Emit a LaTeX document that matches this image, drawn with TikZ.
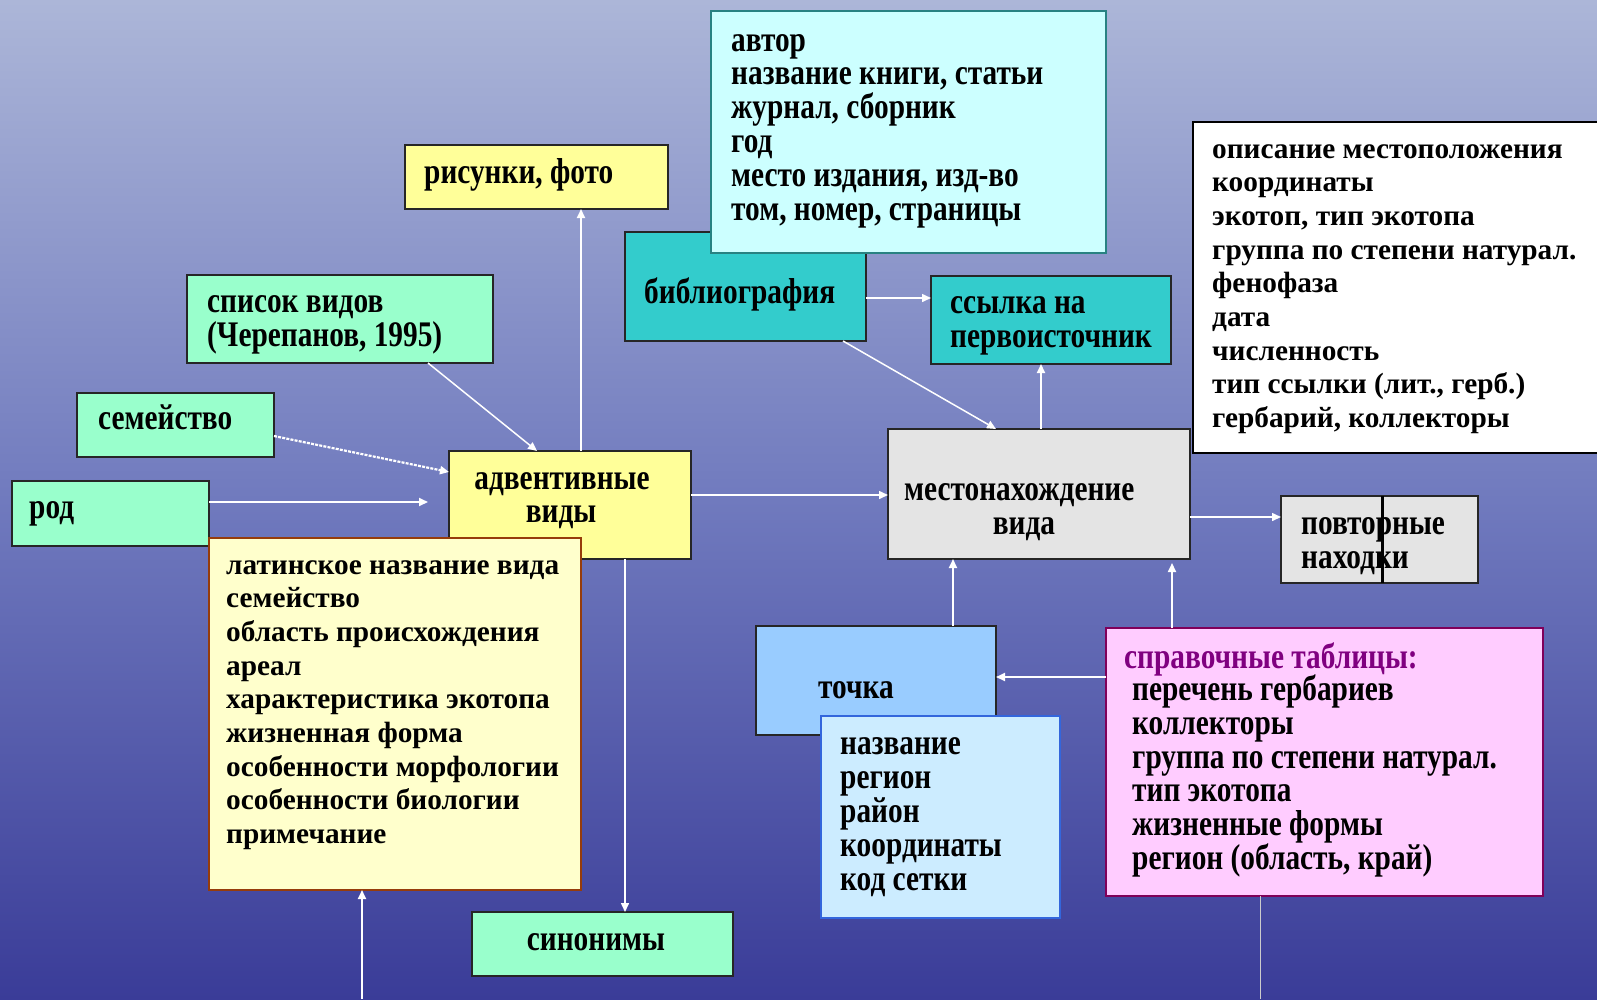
\documentclass[tikz,border=0pt]{standalone}
\usepackage{fontspec}
\setmainfont{Liberation Serif}
\newfontfamily\condfont{Liberation Serif}[FakeStretch=0.815]
\usetikzlibrary{arrows.meta,calc}
\definecolor{bgtop}{RGB}{172,182,216}
\definecolor{bgmid}{RGB}{112,122,190}
\definecolor{bgbot}{RGB}{58,60,152}
\definecolor{cyanl}{RGB}{204,255,255}
\definecolor{cyanb}{RGB}{40,130,130}
\definecolor{teal}{RGB}{51,204,204}
\definecolor{mint}{RGB}{153,255,204}
\definecolor{yel}{RGB}{255,255,153}
\definecolor{ltyel}{RGB}{255,255,204}
\definecolor{brown}{RGB}{150,60,10}
\definecolor{grayb}{RGB}{228,228,228}
\definecolor{blue1}{RGB}{153,204,255}
\definecolor{blue2}{RGB}{204,236,255}
\definecolor{blueb}{RGB}{51,102,220}
\definecolor{pink}{RGB}{255,204,255}
\definecolor{pinkb}{RGB}{128,0,90}
\definecolor{purp}{RGB}{128,0,128}
\tikzset{
  box/.style={draw=black!85, line width=1.3pt, anchor=north west, inner sep=0pt, outer sep=0pt},
  ctxt/.style={font=\condfont\bfseries\fontsize{36}{34}\selectfont, inner sep=0pt, anchor=base west, text=black},
  ntxt/.style={font=\bfseries\fontsize{29.3}{34}\selectfont, inner sep=0pt, anchor=base west, text=black},
  arr/.style={draw=white, line width=1.8pt, -{Triangle[length=9pt,width=8pt]}},
}
\begin{document}
\begin{tikzpicture}[x=1pt,y=-1pt]
\useasboundingbox (0,0) rectangle (1597,999);
\fill[top color=bgtop, bottom color=bgbot, middle color=bgmid] (0,0) rectangle (1597,999);

% boxes
\node[box, fill=yel, minimum width=263pt, minimum height=64pt] (risunki) at (405,145) {};
\node[box, fill=teal, minimum width=241pt, minimum height=109pt] (biblio) at (625,232) {};
\node[box, fill=cyanl, draw=cyanb, minimum width=395pt, minimum height=242pt] (bibd) at (711,11) {};
\node[box, fill=teal, minimum width=240pt, minimum height=88pt] (ssylka) at (931,276) {};
\node[box, fill=white, draw=black, line width=2pt, minimum width=420pt, minimum height=331pt] (white) at (1193,122) {};
\node[box, fill=mint, minimum width=306pt, minimum height=88pt] (spisok) at (187,275) {};
\node[box, fill=mint, minimum width=197pt, minimum height=64pt] (semeistvo) at (77,393) {};
\node[box, fill=mint, minimum width=197pt, minimum height=65pt] (rod) at (12,481) {};
\node[box, fill=yel, minimum width=242pt, minimum height=108pt] (advent) at (449,451) {};
\node[box, fill=ltyel, draw=brown, line width=1.8pt, minimum width=372pt, minimum height=352pt] (latin) at (209,538) {};
\node[box, fill=mint, minimum width=261pt, minimum height=64pt] (sinonimy) at (472,912) {};
\node[box, fill=grayb, line width=2pt, minimum width=302pt, minimum height=130pt] (mesto) at (888,429) {};
\node[box, fill=grayb, minimum width=197pt, minimum height=87pt] (povtor) at (1281,496) {};
\node[box, fill=blue1, minimum width=240pt, minimum height=109pt] (tochka) at (756,626) {};
\node[box, fill=blue2, draw=blueb, line width=1.6pt, minimum width=239pt, minimum height=202pt] (nazv) at (821,716) {};
\node[box, fill=pink, draw=pinkb, line width=1.8pt, minimum width=437pt, minimum height=268pt] (sprav) at (1106,628) {};

\coordinate (xpov) at (1382,0);
\draw[line width=3pt] (povtor.north -| xpov) -- (povtor.south -| xpov);

% texts
\node[ctxt] (trisunki) at (424,183) {рисунки, фото};
\foreach \t [count=\i from 0] in {автор, {название книги, статьи}, {журнал, сборник}, год, {место издания, изд-во}, {том, номер, страницы}}
  \node[ctxt] (tbib\i) at (731,{51+33.8*\i}) {\t};
\node[ctxt] (tbiblio) at (644,303) {библиография};
\node[ctxt] (tssyl1) at (950,313) {ссылка на};
\node[ctxt] (tssyl2) at (950,347) {первоисточник};
\foreach \t [count=\i from 0] in {описание местоположения, координаты, {экотоп, тип экотопа}, {группа по степени натурал.}, фенофаза, дата, численность, {тип ссылки (лит., герб.)}, {гербарий, коллекторы}}
  \node[ntxt] (twh\i) at (1212,{158+33.7*\i}) {\t};
\node[ctxt] (tsp1) at (207,312) {список видов};
\node[ctxt] (tsp2) at (207,346) {(Черепанов, 1995)};
\node[ctxt] (tsem) at (98,429) {семейство};
\node[ctxt] (trod) at (29,518) {род};
\node[ctxt, anchor=base] (tadv1) at (562,489) {адвентивные};
\node[ctxt, anchor=base] (tadv2) at (561,522) {виды};
\foreach \t [count=\i from 0] in {латинское название вида, семейство, область происхождения, ареал, характеристика экотопа, жизненная форма, особенности морфологии, особенности биологии, примечание}
  \node[ntxt] (tlat\i) at (226,{574+33.7*\i}) {\t};
\node[ctxt, anchor=base] (tsin) at (596,950) {синонимы};
\node[ctxt] (tmes1) at (904,500) {местонахождение};
\node[ctxt, anchor=base] (tmes2) at (1024,534) {вида};
\node[ctxt] (tpov1) at (1301,534) {повторные};
\node[ctxt] (tpov2) at (1301,568) {находки};
\node[ctxt] (ttoch) at (818,698) {точка};
\foreach \t [count=\i from 0] in {название, регион, район, координаты, код сетки}
  \node[ctxt] (tnaz\i) at (840,{754.5+34*\i}) {\t};
\node[ctxt, text=purp] (tspr) at (1124,668) {справочные таблицы:};
\foreach \t [count=\i from 0] in {перечень гербариев, коллекторы, {группа по степени натурал.}, тип экотопа, жизненные формы, {регион (область, край)}}
  \node[ctxt] (tspr\i) at (1132,{700.5+33.8*\i}) {\t};

% connectors
\coordinate (x581) at (581,0);
\coordinate (x428) at (428,0);
\coordinate (x537) at (537,0);
\coordinate (x625) at (625,0);
\coordinate (x843) at (843,0);
\coordinate (x996) at (996,0);
\coordinate (x1041) at (1041,0);
\coordinate (x953) at (953,0);
\coordinate (x1172) at (1172,0);
\coordinate (x1260) at (1260,0);
\coordinate (y298) at (0,298);
\coordinate (y517) at (0,517);
\coordinate (y677) at (0,677);
\coordinate (y495) at (0,495);
\coordinate (y502) at (0,502);
\coordinate (latbot) at (362,999);
\coordinate (spravbot) at (1260,999);

\draw[arr] (advent.north -| x581) -- (risunki.south -| x581);
\draw[arr, line width=1.5pt] (spisok.south -| x428) -- (advent.north -| x537);
\draw[arr, line width=2.2pt, dash pattern=on 3pt off 1.2pt] ($(semeistvo.east)+(0,11)$) -- ($(advent.west)+(0,-33)$);
\draw[arr] (rod.east |- y502) -- ($(advent.west |- y502)+(-21,0)$);
\draw[arr, line width=1.5pt] (advent.east |- y495) -- (mesto.west |- y495);
\draw[arr, line width=1.5pt] (advent.south -| x625) -- (sinonimy.north -| x625);
\draw[arr] (latbot) -- (latin.south -| latbot);
\draw[arr, line width=1.5pt] (biblio.east |- y298) -- (ssylka.west |- y298);
\draw[arr, line width=1.5pt] (biblio.south -| x843) -- (mesto.north -| x996);
\draw[arr] (mesto.north -| x1041) -- (ssylka.south -| x1041);
\draw[arr, line width=1.5pt] (mesto.east |- y517) -- (povtor.west |- y517);
\draw[arr] (tochka.north -| x953) -- (mesto.south -| x953);
\draw[arr] (sprav.north -| x1172) -- ($(mesto.south -| x1172)+(0,4)$);
\draw[arr] (sprav.west |- y677) -- (tochka.east |- y677);
\draw[draw=black!20, line width=0.8pt] (sprav.south -| x1260) -- (spravbot);
\end{tikzpicture}
\end{document}
